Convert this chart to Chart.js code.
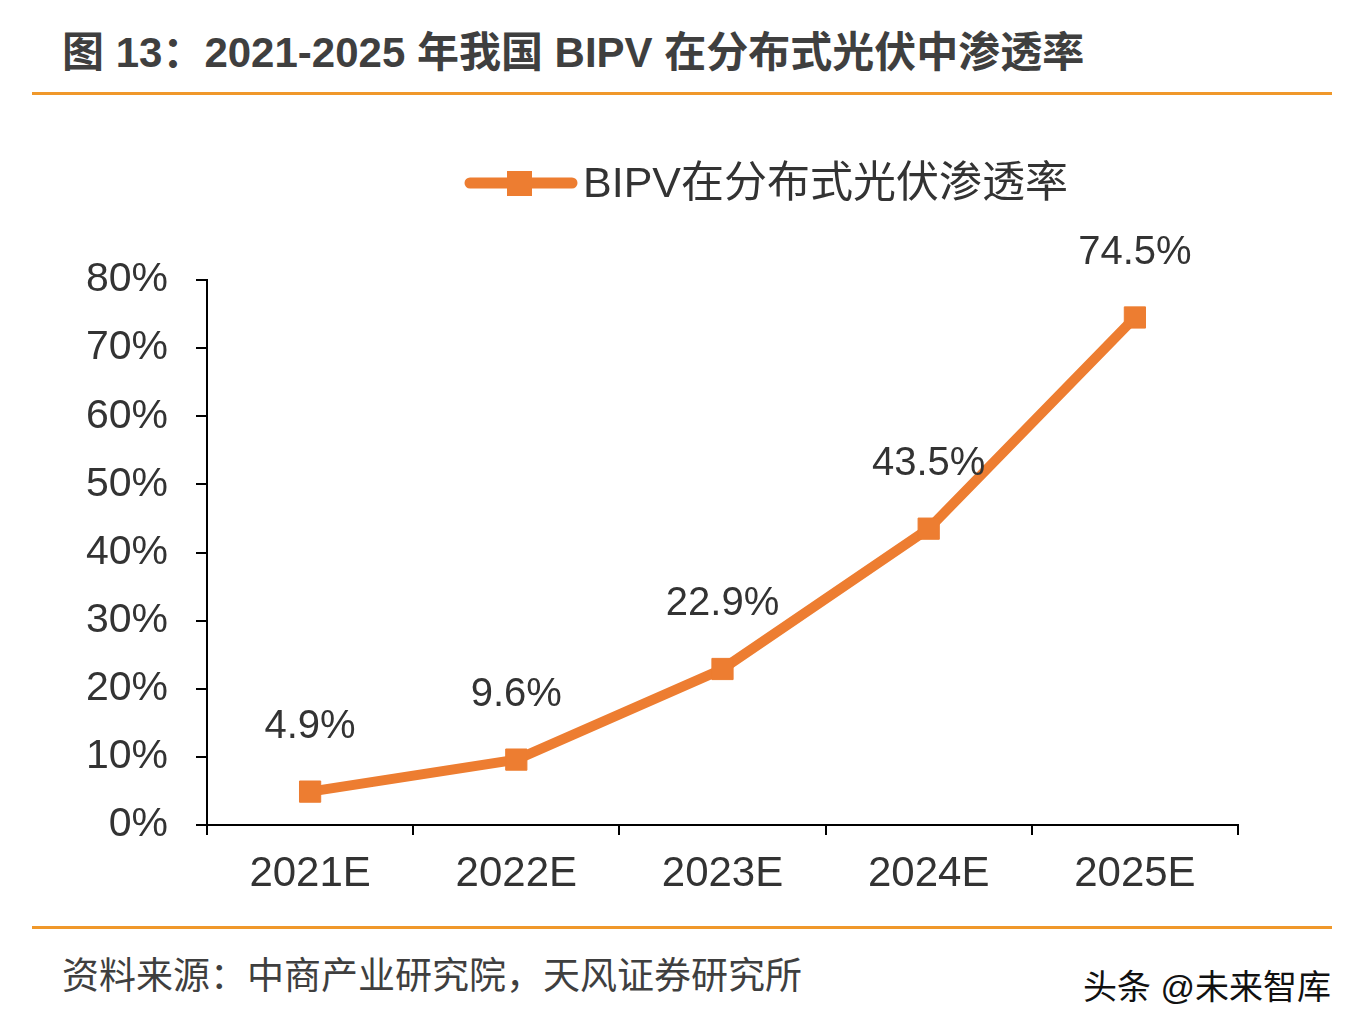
<!DOCTYPE html>
<html>
<head>
<meta charset="utf-8">
<script src="https://cdn.jsdelivr.net/npm/chart.js@4/dist/chart.umd.min.js"></script>
<style>
  html, body { margin: 0; padding: 0; background: #fff; }
  body { width: 1362px; height: 1028px; position: relative; overflow: hidden;
         font-family: "Liberation Sans", "Noto Sans CJK SC", sans-serif; }
  #title { position: absolute; left: 62px; top: 18px; font-size: 42px; font-weight: bold;
           color: #3f3f3f; white-space: nowrap; }
  .rule { position: absolute; left: 32px; width: 1300px; height: 3px; background: #F0982A; }
  #source { position: absolute; left: 62px; top: 946px; font-size: 37px; color: #3f3f3f;
            white-space: nowrap; }
  #mark { position: absolute; left: 1083px; top: 960px; font-size: 34px; color: #111;
          white-space: nowrap; }
  #wrap { position: absolute; left: 0; top: 0; width: 1362px; height: 1028px; }
</style>
</head>
<body>
<div id="title">图 13：2021-2025 年我国 BIPV 在分布式光伏中渗透率</div>
<div class="rule" style="top:92px"></div>
<div class="rule" style="top:926px"></div>
<div id="source">资料来源：中商产业研究院，天风证券研究所</div>
<div id="mark">头条 @未来智库</div>
<div id="wrap"><canvas id="myChart" width="1362" height="1028"></canvas></div>
<script>
var years = ["2021E", "2022E", "2023E", "2024E", "2025E"];
var penetration = [4.9, 9.6, 22.9, 43.5, 74.5];
var seriesName = "BIPV在分布式光伏渗透率";

var orange = "#ED7D31";
var textColor = "#333333";

// value labels above each point
var valueLabels = {
  id: "valueLabels",
  afterDatasetsDraw: function (chart) {
    var ctx = chart.ctx;
    var meta = chart.getDatasetMeta(0);
    ctx.save();
    ctx.font = "40px 'Liberation Sans', sans-serif";
    ctx.fillStyle = textColor;
    ctx.textAlign = "center";
    ctx.textBaseline = "middle";
    meta.data.forEach(function (pt, i) {
      ctx.fillText(penetration[i].toFixed(1) + "%", pt.x, pt.y - 65);
    });
    ctx.restore();
  }
};

// legend drawn by hand: line with square marker
var legendDraw = {
  id: "legendDraw",
  afterDraw: function (chart) {
    var ctx = chart.ctx;
    ctx.save();
    ctx.strokeStyle = orange;
    ctx.lineWidth = 11;
    ctx.lineCap = "round";
    ctx.beginPath();
    ctx.moveTo(470, 183);
    ctx.lineTo(572, 183);
    ctx.stroke();
    ctx.fillStyle = orange;
    ctx.fillRect(507, 171, 25, 25);
    ctx.font = "43px 'Liberation Sans', 'Noto Sans CJK SC', sans-serif";
    ctx.fillStyle = textColor;
    ctx.textAlign = "left";
    ctx.textBaseline = "middle";
    ctx.fillText(seriesName, 583, 185);
    ctx.restore();
  }
};

var ctx = document.getElementById("myChart").getContext("2d");
var myLineChart = new Chart(ctx, {
  type: "line",
  data: {
    labels: years,
    datasets: [{
      label: seriesName,
      data: penetration,
      borderColor: orange,
      backgroundColor: orange,
      borderWidth: 10,
      pointStyle: "rect",
      pointRadius: 15,
      pointHoverRadius: 15,
      pointBackgroundColor: orange,
      pointBorderColor: orange,
      pointBorderWidth: 1,
      fill: false,
      tension: 0
    }]
  },
  options: {
    responsive: false,
    animation: false,
    layout: { padding: { left: 0, right: 124, top: 280, bottom: 123 } },
    plugins: {
      legend: { display: false },
      tooltip: { enabled: false }
    },
    scales: {
      x: {
        offset: true,
        afterFit: function (scale) { scale.height = 80; },
        grid: { offset: true, drawOnChartArea: false, drawTicks: true, tickLength: 10, color: "#000", lineWidth: 2 },
        border: { display: true, color: "#000", width: 2 },
        ticks: { color: textColor, padding: 14, font: { size: 42, family: "'Liberation Sans', sans-serif" } }
      },
      y: {
        min: 0,
        max: 80,
        afterFit: function (scale) { scale.width = 207; },
        grid: { drawOnChartArea: false, drawTicks: true, tickLength: 11, color: "#000", lineWidth: 2 },
        border: { display: true, color: "#000", width: 2 },
        ticks: {
          stepSize: 10,
          color: textColor,
          padding: 28,
          font: { size: 41, family: "'Liberation Sans', sans-serif" },
          callback: function (v) { return v + "%"; }
        }
      }
    }
  },
  plugins: [valueLabels, legendDraw]
});
</script>
</body>
</html>
